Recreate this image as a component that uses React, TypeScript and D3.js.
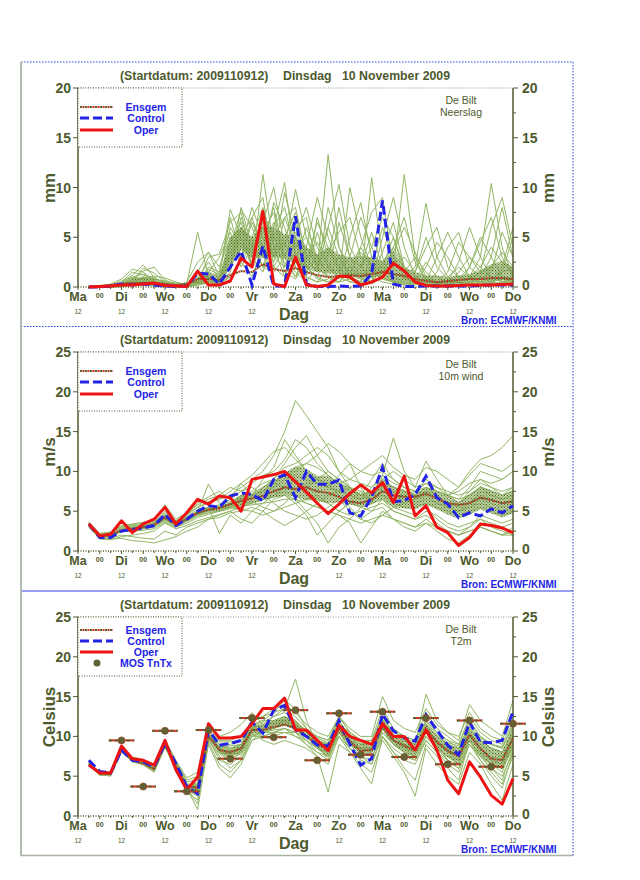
import * as d3 from 'd3';

const W = 640;
const H = 880;
const FONT = '"Liberation Sans", Arial, Helvetica, sans-serif';
const OLIVE = '#4e5a2e';
const GREEN = '#92b665';
const BLUE = '#2323e6';
const RED = '#ee1313';

const TITLE_PARTS = ['(Startdatum: 2009110912)', 'Dinsdag', '10 November  2009'];
const DAYS = ['Ma', 'Di', 'Wo', 'Do', 'Vr', 'Za', 'Zo', 'Ma', 'Di', 'Wo', 'Do'];
// forecast steps in hours after 2009-11-09 12 UTC
const STEPS = d3.range(6, 241, 6);

// ---------- precipitation (mm / 6h) ----------
const precipOper = [0.0, 0.05, 0.1, 0.2, 0.2, 0.3, 0.4, 0.15, 0.1, 0.05, 1.6, 0.2, 0.2, 0.6, 2.9, 2.0, 7.6, 0.3, 0.05, 3.0, 0.2, 0.05, 0.2, 1.1, 1.0, 0.2, 0.5, 1.0, 2.4, 1.6, 0.5, 0.15, 0.1, 0.1, 0.15, 0.2, 0.2, 0.2, 0.25, 0.3];
const precipControl = [0, 0, 0.1, 0.3, 0.2, 0.3, 0.2, 0.1, 0.05, 0.1, 1.4, 1.3, 0.3, 2.0, 3.6, 0.2, 4.1, 0.1, 0.1, 7.1, 0.3, 0.05, 0.05, 0.1, 0.05, 0.1, 1.3, 8.7, 0.3, 0.05, 0.05, 0.1, 0.1, 0.1, 0.1, 0.1, 0.15, 0.2, 0.2, 0.2];
const precipEnsgem = [0.05, 0.1, 0.2, 0.3, 0.4, 0.4, 0.3, 0.3, 0.2, 0.3, 0.8, 0.8, 0.7, 1.2, 1.6, 1.5, 2.3, 1.8, 1.6, 1.9, 1.5, 1.2, 1.0, 1.1, 1.2, 1.1, 1.3, 1.5, 1.3, 1.1, 0.8, 0.6, 0.5, 0.6, 0.7, 0.8, 0.8, 0.9, 0.9, 0.8];
const precipMembers = [
  [0, 0, 0.1, 0.4, 1.2, 2.2, 1.0, 0.3, 0.1, 0.2, 0.8, 0.5, 0.3, 3.5, 6.0, 2.0, 4.5, 8.0, 3.0, 1.5, 0.5, 2.0, 13.3, 4.0, 1.0, 0.5, 3.0, 1.0, 0.5, 0.3, 0.5, 1.0, 0.5, 0.2, 1.5, 3.0, 2.0, 1.0, 0.5, 0.3],
  [0, 0.1, 0.3, 0.8, 1.8, 1.5, 0.6, 0.2, 0.1, 0.5, 2.5, 3.5, 1.0, 7.8, 5.0, 2.0, 11.3, 4.0, 1.0, 2.5, 6.0, 3.0, 1.0, 0.5, 0.8, 1.5, 0.5, 2.0, 5.0, 2.0, 0.5, 0.3, 0.2, 0.5, 1.0, 0.8, 0.5, 2.0, 1.0, 0.5],
  [0, 0, 0.1, 0.2, 0.6, 1.9, 1.4, 0.5, 0.2, 0.3, 5.5, 1.0, 0.5, 2.0, 8.0, 4.0, 2.0, 6.0, 10.5, 3.0, 1.0, 0.5, 0.8, 2.0, 1.0, 0.5, 11.0, 3.0, 0.5, 0.2, 0.3, 0.8, 0.5, 0.3, 0.5, 1.0, 3.0, 10.4, 4.0, 1.0],
  [0, 0, 0.2, 0.6, 1.0, 0.8, 0.4, 0.2, 0.3, 0.2, 1.5, 3.5, 2.0, 5.0, 3.0, 7.0, 9.0, 2.0, 4.0, 9.8, 5.0, 2.0, 1.0, 3.0, 1.5, 0.8, 0.5, 1.0, 2.0, 11.3, 3.0, 0.5, 0.2, 0.1, 0.3, 0.5, 1.0, 0.5, 2.0, 6.0],
  [0, 0, 0, 0.1, 0.3, 0.5, 0.4, 0.3, 0.2, 0.1, 0.5, 3.0, 3.3, 6.5, 7.5, 3.0, 1.5, 5.0, 7.0, 8.0, 3.0, 1.5, 6.0, 10.3, 4.0, 2.0, 1.0, 0.5, 0.3, 1.0, 2.0, 8.4, 3.0, 1.0, 0.5, 0.3, 0.2, 0.5, 1.0, 0.5],
  [0, 0, 0.1, 0.3, 0.5, 1.0, 0.8, 0.5, 0.3, 0.2, 0.4, 1.0, 0.5, 4.0, 7.8, 6.0, 3.0, 2.0, 1.0, 5.0, 8.0, 4.0, 2.0, 1.0, 10.0, 5.0, 2.0, 1.0, 0.5, 0.5, 0.3, 0.2, 1.5, 4.0, 5.5, 2.0, 1.0, 0.5, 0.3, 0.2],
  [0, 0, 0, 0.2, 0.4, 0.6, 0.3, 0.1, 0, 0.1, 0.3, 0.5, 0.2, 2.5, 5.0, 7.0, 3.5, 8.5, 6.0, 2.0, 1.0, 7.0, 3.0, 8.0, 3.0, 1.0, 0.5, 5.0, 9.0, 4.0, 1.0, 0.5, 0.3, 0.2, 0.1, 0.3, 1.0, 3.0, 8.0, 3.0],
  [0, 0, 0.1, 0.5, 1.5, 1.2, 0.8, 0.6, 0.4, 0.3, 1.0, 0.5, 0.8, 3.0, 4.5, 2.5, 6.5, 10.0, 4.0, 7.0, 2.0, 1.0, 0.5, 1.5, 3.0, 7.0, 4.0, 1.5, 0.6, 0.3, 0.8, 2.5, 1.0, 0.4, 0.2, 2.0, 5.0, 3.0, 1.0, 0.8],
  [0, 0, 0, 0, 0.2, 0.3, 0.2, 0.1, 0.1, 0.2, 0.5, 2.0, 1.5, 7.0, 3.0, 5.0, 8.0, 4.0, 2.5, 1.0, 4.0, 9.0, 5.0, 2.0, 1.0, 0.5, 2.0, 6.0, 3.0, 1.0, 0.3, 0.2, 0.1, 0.5, 2.5, 6.0, 3.0, 1.0, 0.5, 0.5],
  [0, 0, 0.1, 0.2, 0.7, 1.6, 2.0, 0.7, 0.2, 0.1, 0.2, 0.5, 0.3, 1.5, 6.0, 4.0, 7.0, 3.0, 9.5, 5.0, 2.0, 0.8, 0.5, 0.5, 2.0, 4.0, 7.5, 9.0, 2.0, 0.8, 0.5, 0.3, 0.2, 0.2, 0.5, 1.0, 2.0, 4.0, 2.5, 1.5],
  [0, 0, 0, 0.1, 0.2, 0.2, 0.1, 0, 0, 0, 0.3, 1.5, 3.0, 5.5, 2.5, 1.0, 4.0, 6.5, 3.0, 6.0, 7.0, 2.0, 4.0, 2.0, 0.5, 0.3, 1.0, 3.5, 6.5, 2.0, 0.5, 0.3, 0.1, 0.1, 0.2, 0.5, 1.5, 6.0, 9.0, 4.0],
  [0, 0, 0.1, 0.3, 0.8, 0.5, 0.3, 0.3, 0.2, 0.2, 0.8, 2.5, 0.8, 2.0, 7.0, 3.0, 5.5, 7.5, 2.0, 3.5, 1.5, 5.5, 2.0, 0.8, 5.0, 8.5, 3.0, 1.0, 0.5, 0.4, 0.3, 0.5, 3.0, 5.5, 3.0, 1.0, 0.5, 0.3, 0.2, 1.0],
  [0, 0, 0, 0.2, 0.5, 0.9, 0.6, 0.2, 0.1, 0.2, 0.6, 0.3, 0.2, 3.0, 5.5, 5.0, 2.0, 4.0, 5.0, 7.5, 3.0, 1.5, 8.0, 4.0, 2.0, 1.0, 0.5, 2.5, 4.0, 7.0, 2.5, 0.8, 0.5, 0.3, 0.2, 0.3, 0.5, 0.8, 1.5, 2.0],
  [0, 0, 0.1, 0.4, 0.9, 0.7, 0.5, 0.4, 0.2, 0.3, 1.2, 1.0, 0.5, 1.0, 3.0, 6.5, 4.0, 2.5, 7.0, 4.0, 5.0, 3.0, 1.5, 6.5, 3.0, 2.0, 5.5, 2.0, 1.0, 0.5, 1.5, 4.0, 6.0, 2.0, 1.0, 0.5, 0.3, 0.5, 0.8, 0.5],
  [0, 0, 0, 0.1, 0.3, 0.4, 0.3, 0.2, 0.1, 0, 0.2, 0.4, 0.6, 4.5, 6.5, 2.0, 3.0, 5.5, 1.5, 0.8, 2.5, 6.5, 4.0, 1.5, 0.8, 0.5, 0.3, 1.0, 2.5, 3.0, 1.5, 5.0, 2.0, 0.8, 0.4, 0.2, 0.1, 0.3, 1.5, 5.0],
  [0, 0, 0.1, 0.3, 1.0, 1.3, 0.9, 0.4, 0.2, 0.1, 0.4, 0.8, 1.5, 6.0, 4.0, 3.5, 6.0, 3.0, 2.0, 4.5, 2.0, 1.0, 3.5, 5.5, 7.0, 3.0, 1.5, 0.8, 0.5, 1.5, 3.0, 1.5, 0.5, 1.5, 4.5, 3.0, 1.5, 1.0, 0.6, 0.4],
  [0, 0, 0, 0.1, 0.2, 0.5, 0.4, 0.3, 0.2, 0.1, 0.3, 0.5, 0.4, 2.0, 4.0, 8.0, 5.0, 3.0, 4.5, 2.0, 1.0, 0.5, 2.0, 3.0, 1.0, 2.0, 4.0, 7.0, 5.0, 1.5, 0.5, 0.3, 0.2, 0.3, 0.8, 2.0, 4.5, 7.0, 3.0, 1.0],
  [0, 0, 0.1, 0.2, 0.4, 0.8, 1.1, 0.9, 0.5, 0.2, 0.6, 1.8, 1.2, 3.5, 5.0, 2.0, 7.5, 5.0, 3.0, 1.0, 3.0, 4.5, 2.5, 1.0, 0.5, 1.0, 2.0, 1.5, 3.5, 6.0, 3.5, 1.0, 0.4, 0.2, 0.3, 0.8, 1.5, 2.0, 3.5, 2.0],
  [0, 0, 0, 0.1, 0.3, 0.6, 0.5, 0.2, 0.1, 0.1, 0.5, 1.2, 0.7, 5.0, 2.0, 4.0, 3.0, 6.0, 8.0, 3.5, 1.5, 3.0, 6.0, 3.0, 1.0, 4.0, 2.0, 0.8, 0.5, 0.3, 0.5, 2.0, 4.5, 3.0, 1.0, 0.5, 0.8, 1.5, 5.5, 3.0],
  [0, 0, 0.1, 0.2, 0.5, 0.3, 0.2, 0.1, 0.1, 0.2, 0.4, 0.6, 0.3, 1.0, 2.5, 4.5, 2.0, 1.5, 3.0, 5.5, 4.0, 2.0, 1.0, 0.5, 1.5, 3.5, 2.0, 1.0, 4.0, 2.0, 1.0, 0.5, 0.3, 1.0, 2.0, 1.0, 0.5, 0.3, 0.5, 1.0],
];

// ---------- 10m wind (m/s) ----------
const windOper = [3.4, 1.9, 2.1, 3.8, 2.3, 3.4, 4.0, 5.5, 3.4, 4.8, 6.5, 5.9, 6.9, 6.7, 5.0, 9.0, 9.3, 9.6, 10.0, 8.7, 7.4, 6.0, 4.7, 5.9, 7.2, 8.3, 7.3, 8.6, 6.1, 9.4, 4.4, 5.7, 3.0, 2.3, 0.7, 1.7, 3.4, 3.2, 2.9, 2.3];
const windControl = [3.4, 1.7, 1.7, 2.5, 2.7, 2.9, 3.2, 4.6, 3.2, 4.0, 5.0, 5.7, 5.5, 6.9, 7.3, 7.1, 6.3, 9.0, 9.6, 6.7, 10.0, 8.4, 8.4, 8.9, 4.8, 4.4, 6.8, 10.5, 6.2, 6.3, 7.1, 9.4, 6.7, 5.9, 4.2, 4.8, 4.4, 5.3, 4.8, 5.7];
const windEnsgem = [3.3, 1.9, 2.0, 2.6, 2.8, 3.0, 3.3, 4.2, 3.4, 4.0, 4.8, 5.2, 5.4, 5.9, 6.3, 6.6, 6.9, 7.5, 8.0, 7.8, 8.0, 7.5, 7.3, 6.8, 6.2, 6.0, 6.5, 7.5, 7.0, 6.8, 6.8, 7.2, 6.6, 6.0, 5.8, 6.0, 6.7, 6.4, 6.0, 6.2];
const windMembers = [
  [3.5, 2.0, 2.2, 2.8, 3.0, 3.2, 3.6, 4.5, 3.6, 4.5, 5.5, 6.0, 6.5, 7.0, 8.0, 9.0, 10.0, 12.0, 15.0, 18.9, 17.0, 15.0, 13.0, 10.0, 8.0, 7.0, 9.0, 11.0, 9.0, 8.0, 7.5, 9.0, 8.0, 7.0, 8.0, 10.0, 11.5, 12.0, 13.0, 14.5],
  [3.2, 1.7, 1.8, 2.4, 2.5, 2.6, 2.8, 3.6, 3.0, 3.5, 4.2, 4.6, 5.0, 5.5, 5.8, 6.0, 6.5, 6.8, 7.0, 6.5, 5.0, 3.5, 1.0, 3.0, 4.0, 5.5, 6.0, 6.5, 5.0, 4.5, 4.0, 5.0, 4.5, 3.5, 3.0, 3.5, 4.0, 3.5, 3.0, 3.5],
  [3.4, 1.9, 2.1, 3.0, 3.2, 3.3, 3.5, 5.0, 3.8, 4.5, 6.0, 6.8, 7.5, 6.5, 8.5, 7.0, 9.0, 10.5, 14.0, 12.0, 10.0, 9.0, 8.0, 9.5, 11.0, 8.0, 6.0, 9.5, 14.2, 10.0, 8.0, 11.3, 9.0, 7.0, 6.0, 7.5, 9.0, 8.0, 7.0, 8.0],
  [3.0, 1.6, 1.5, 1.6, 1.3, 1.2, 1.0, 1.4, 1.8, 2.5, 3.0, 4.0, 4.5, 5.0, 5.5, 6.0, 6.5, 7.0, 7.5, 7.0, 6.0, 5.5, 5.0, 4.5, 3.5, 1.0, 3.0, 5.0, 4.0, 3.5, 3.0, 4.0, 3.0, 2.5, 2.0, 3.0, 4.0, 3.0, 2.5, 2.0],
  [3.3, 2.0, 2.0, 2.7, 2.9, 3.0, 3.3, 4.0, 3.5, 4.2, 5.0, 8.4, 6.0, 5.5, 7.0, 7.5, 8.5, 9.0, 10.5, 11.0, 12.0, 13.0, 12.0, 10.0, 9.0, 8.5, 8.0, 9.0, 10.0, 9.0, 8.0, 8.5, 7.5, 7.0, 6.5, 8.0, 10.0, 9.5, 9.0, 10.0],
  [3.6, 2.2, 2.4, 3.1, 3.3, 3.5, 3.7, 4.8, 3.8, 4.3, 5.2, 5.5, 2.2, 4.5, 3.5, 5.0, 6.0, 7.0, 8.0, 9.0, 7.5, 6.5, 6.0, 5.0, 6.0, 7.5, 6.5, 7.0, 6.0, 5.5, 5.5, 6.0, 5.5, 5.0, 4.5, 5.0, 5.5, 5.0, 4.5, 5.0],
  [3.1, 1.8, 1.9, 2.5, 2.7, 2.9, 3.1, 3.9, 3.2, 3.8, 4.6, 5.0, 5.3, 6.0, 6.5, 7.0, 7.5, 8.5, 9.5, 10.0, 11.0, 12.0, 13.5, 12.5, 11.0, 10.0, 9.5, 10.0, 9.0, 8.0, 7.0, 7.5, 6.5, 5.5, 5.0, 5.5, 6.5, 6.0, 5.5, 6.0],
  [3.4, 1.9, 2.0, 2.6, 2.9, 3.1, 3.4, 4.3, 3.5, 4.1, 4.9, 5.3, 5.6, 6.5, 7.5, 8.0, 7.0, 6.0, 5.0, 4.5, 4.0, 4.5, 5.5, 6.5, 5.0, 4.0, 5.0, 6.5, 5.5, 5.0, 4.5, 5.5, 4.0, 3.0, 2.5, 3.0, 4.5, 4.0, 3.5, 4.0],
  [3.2, 1.8, 1.6, 2.0, 1.8, 1.6, 1.5, 2.5, 2.0, 3.0, 3.5, 4.0, 4.2, 4.8, 5.0, 5.5, 5.0, 4.0, 3.2, 4.0, 5.0, 6.0, 7.0, 7.5, 8.0, 7.0, 6.5, 7.0, 6.5, 6.0, 6.5, 7.0, 6.0, 5.5, 5.0, 5.5, 6.0, 5.5, 5.0, 5.5],
  [3.5, 2.1, 2.3, 2.9, 3.1, 3.2, 3.5, 4.6, 3.7, 4.6, 5.5, 6.2, 6.5, 7.5, 8.5, 9.5, 11.0, 12.5, 13.0, 11.5, 10.0, 8.5, 8.0, 7.5, 7.0, 6.5, 8.0, 9.5, 8.5, 8.0, 7.5, 8.0, 7.5, 7.0, 7.5, 8.5, 9.0, 8.5, 9.0, 10.0],
  [3.3, 1.9, 2.0, 2.6, 2.8, 3.0, 3.3, 4.2, 3.3, 3.9, 4.7, 5.1, 5.3, 5.6, 6.0, 6.2, 5.5, 5.0, 6.0, 7.5, 8.5, 9.0, 8.5, 7.0, 5.5, 4.0, 3.5, 4.5, 5.5, 6.0, 6.5, 7.5, 7.0, 6.0, 5.5, 6.0, 7.0, 6.5, 6.0, 6.5],
  [3.4, 2.0, 2.1, 2.7, 2.9, 3.1, 3.4, 4.4, 3.5, 4.0, 5.0, 5.5, 5.8, 6.2, 7.0, 6.5, 8.0, 9.0, 11.0, 13.0, 14.5, 12.0, 10.0, 9.0, 8.0, 7.5, 7.0, 8.0, 7.0, 6.5, 6.0, 6.5, 6.0, 5.5, 5.0, 6.0, 7.5, 7.0, 6.5, 7.0],
  [3.2, 1.7, 1.9, 2.5, 2.6, 2.8, 3.1, 4.0, 3.2, 3.8, 4.5, 4.8, 5.0, 5.5, 5.2, 5.0, 4.5, 5.0, 5.5, 6.0, 6.5, 7.0, 6.0, 5.0, 4.5, 5.0, 5.5, 6.0, 5.0, 4.5, 4.0, 4.5, 3.5, 2.5, 2.0, 2.5, 3.0, 2.5, 2.0, 2.0],
  [3.3, 1.9, 2.0, 2.6, 2.8, 3.0, 3.3, 4.2, 3.4, 4.0, 4.8, 5.2, 5.4, 6.0, 6.5, 7.0, 7.5, 8.0, 9.0, 9.5, 9.0, 8.5, 8.0, 7.5, 7.0, 6.5, 7.0, 8.0, 7.5, 7.0, 7.5, 8.5, 8.0, 7.5, 7.0, 7.5, 8.5, 8.0, 7.5, 8.0],
  [3.0, 1.5, 1.4, 1.8, 2.0, 2.2, 2.5, 3.5, 2.8, 3.2, 3.8, 4.2, 4.6, 5.0, 4.0, 3.5, 5.0, 6.5, 7.0, 6.0, 4.5, 2.0, 3.5, 5.0, 6.0, 5.5, 5.0, 5.5, 4.0, 3.0, 2.5, 3.5, 2.5, 1.5, 1.0, 2.0, 3.0, 2.5, 2.0, 3.0],
  [3.4, 2.0, 2.0, 2.7, 2.9, 3.1, 3.4, 4.3, 3.5, 4.1, 4.9, 5.3, 5.5, 6.0, 6.8, 7.2, 8.0, 8.8, 9.5, 10.5, 11.0, 10.5, 9.5, 8.5, 7.5, 7.0, 7.5, 8.5, 8.0, 7.5, 7.0, 8.0, 7.5, 7.0, 6.5, 7.0, 8.0, 7.5, 7.0, 7.5],
  [3.6, 2.2, 2.3, 3.2, 3.4, 3.6, 3.9, 5.8, 4.0, 4.8, 5.8, 6.5, 7.0, 8.0, 7.5, 8.5, 9.5, 10.0, 11.5, 14.0, 13.0, 11.0, 9.5, 8.5, 9.0, 10.0, 11.0, 12.0, 10.5, 9.5, 9.0, 10.5, 10.0, 9.0, 8.0, 9.5, 11.0, 10.5, 10.0, 11.0],
  [3.1, 1.8, 1.9, 2.4, 2.6, 2.8, 3.0, 3.8, 3.1, 3.7, 4.4, 4.8, 5.0, 5.3, 5.6, 5.8, 6.0, 6.2, 6.5, 6.5, 6.0, 5.5, 5.0, 4.5, 4.0, 3.5, 4.0, 4.5, 4.0, 3.5, 3.0, 3.5, 3.0, 2.5, 2.0, 2.5, 3.0, 2.5, 2.0, 2.5],
  [3.3, 1.9, 2.0, 2.6, 2.8, 3.0, 3.3, 4.1, 3.3, 4.0, 4.7, 5.2, 5.4, 5.8, 6.2, 6.8, 7.5, 8.5, 8.0, 7.5, 8.0, 9.0, 10.0, 9.0, 8.0, 7.0, 7.5, 9.0, 8.0, 7.5, 7.0, 8.0, 7.0, 6.0, 6.0, 7.0, 8.0, 7.0, 6.5, 7.0],
  [3.4, 1.9, 2.0, 2.6, 2.8, 3.0, 3.3, 4.2, 3.4, 4.0, 4.8, 5.2, 5.4, 5.9, 6.3, 6.6, 6.9, 7.5, 8.0, 7.8, 8.0, 7.5, 7.3, 6.8, 6.2, 6.0, 6.5, 7.5, 7.0, 6.8, 6.8, 7.2, 6.6, 6.0, 5.8, 6.0, 6.7, 6.4, 6.0, 6.2],
];

// ---------- 2m temperature (Celsius) ----------
const tempOper = [6.4, 5.4, 5.4, 8.8, 7.2, 7.0, 6.4, 9.5, 5.8, 3.3, 4.9, 11.6, 9.8, 9.8, 10.0, 11.6, 13.5, 13.5, 14.8, 10.8, 10.8, 9.5, 8.2, 11.4, 10.0, 9.5, 9.0, 11.6, 10.0, 10.0, 8.3, 10.8, 8.3, 4.5, 2.8, 6.8, 4.9, 2.6, 1.5, 4.7];
const tempControl = [7.0, 5.6, 5.4, 8.3, 7.0, 6.8, 6.2, 9.1, 6.6, 3.7, 2.8, 10.8, 8.9, 9.1, 9.5, 11.8, 10.4, 13.3, 13.9, 10.8, 10.0, 8.9, 8.8, 12.0, 9.0, 6.4, 7.2, 12.8, 10.7, 9.8, 9.4, 12.7, 10.8, 8.9, 7.7, 11.8, 9.3, 9.2, 9.5, 13.1];
const tempEnsgem = [6.5, 5.3, 5.3, 8.3, 7.0, 6.6, 5.9, 9.0, 6.3, 3.8, 3.5, 10.0, 8.3, 8.0, 8.5, 10.8, 10.8, 11.2, 11.5, 11.0, 10.0, 9.0, 8.5, 11.0, 9.3, 8.2, 8.3, 11.2, 9.5, 8.8, 8.2, 11.0, 9.3, 8.2, 7.5, 10.2, 8.5, 7.2, 7.0, 9.8];
const tempMembers = [
  [6.6, 5.2, 5.0, 8.0, 6.8, 6.5, 5.6, 8.8, 6.0, 3.2, 2.5, 10.5, 8.0, 7.5, 8.2, 11.0, 11.5, 12.5, 13.5, 17.2, 12.0, 9.0, 7.0, 10.5, 8.5, 7.0, 6.5, 10.0, 8.0, 7.0, 6.5, 9.5, 8.0, 6.5, 5.5, 9.0, 7.5, 6.0, 5.0, 8.0],
  [6.3, 5.5, 5.6, 8.5, 7.3, 7.0, 6.3, 9.5, 6.8, 4.5, 5.0, 11.0, 9.5, 9.5, 10.0, 12.0, 12.5, 13.0, 13.5, 12.5, 11.0, 9.5, 9.0, 12.0, 10.0, 9.0, 9.5, 13.5, 11.0, 10.0, 9.5, 13.0, 11.0, 10.0, 9.0, 12.5, 10.5, 9.5, 9.0, 12.0],
  [6.7, 5.4, 5.3, 8.2, 7.0, 6.6, 5.8, 9.0, 6.2, 3.5, 1.5, 9.5, 7.5, 6.0, 7.0, 10.0, 10.0, 10.5, 11.0, 10.5, 9.0, 7.5, 3.0, 9.0, 8.0, 6.0, 4.0, 10.0, 8.0, 6.0, 4.5, 9.0, 7.5, 6.0, 4.5, 9.5, 7.0, 5.0, 3.5, 8.0],
  [6.4, 5.1, 5.2, 8.4, 7.2, 6.8, 6.0, 9.2, 6.5, 4.0, 4.0, 10.2, 8.8, 8.5, 9.0, 11.5, 11.0, 11.8, 12.0, 11.5, 10.5, 10.0, 9.5, 11.5, 10.5, 9.5, 9.0, 12.0, 10.5, 10.0, 9.0, 12.0, 10.5, 9.5, 8.5, 11.5, 10.0, 9.0, 8.5, 11.5],
  [6.5, 5.3, 5.4, 8.1, 6.9, 6.4, 5.5, 8.6, 5.8, 3.0, 2.0, 9.0, 6.0, 4.8, 6.5, 9.5, 10.5, 11.0, 11.5, 11.0, 9.5, 8.0, 7.5, 10.0, 8.5, 7.5, 7.0, 11.0, 9.0, 8.5, 8.0, 10.5, 9.0, 7.0, 6.0, 9.5, 7.5, 6.5, 6.0, 9.0],
  [6.6, 5.6, 5.5, 8.6, 7.4, 7.1, 6.5, 9.6, 7.0, 4.8, 5.5, 11.5, 10.0, 10.5, 11.5, 13.0, 11.5, 11.0, 12.0, 11.5, 10.5, 9.5, 9.0, 12.5, 10.5, 9.5, 9.0, 12.5, 10.0, 9.0, 8.5, 11.5, 10.0, 9.0, 8.0, 11.0, 9.5, 8.5, 8.0, 10.5],
  [6.4, 5.2, 5.1, 8.3, 7.1, 6.7, 6.1, 9.1, 6.4, 3.6, 3.0, 10.0, 8.5, 8.0, 8.5, 10.5, 9.5, 9.0, 9.5, 9.0, 8.5, 7.5, 6.5, 10.0, 8.0, 6.5, 5.5, 9.5, 7.5, 5.5, 2.5, 8.5, 6.5, 5.0, 4.0, 8.0, 6.5, 4.0, 2.0, 6.5],
  [6.5, 5.4, 5.3, 8.2, 6.9, 6.5, 5.7, 8.9, 6.1, 3.4, 3.3, 10.3, 8.2, 7.8, 8.3, 11.2, 12.0, 13.0, 14.5, 13.5, 11.0, 10.0, 9.5, 12.5, 11.0, 10.0, 10.0, 15.0, 12.0, 11.0, 10.5, 13.5, 11.5, 10.5, 10.0, 13.0, 11.0, 10.0, 9.5, 13.0],
  [6.6, 5.3, 5.4, 8.4, 7.1, 6.6, 6.0, 9.0, 6.3, 3.9, 3.8, 9.8, 7.0, 6.5, 7.5, 10.0, 10.5, 10.5, 11.0, 10.0, 9.0, 8.0, 7.0, 10.5, 9.0, 8.0, 8.5, 11.0, 9.5, 9.0, 8.5, 10.5, 9.0, 8.0, 7.5, 10.0, 8.0, 7.0, 6.5, 9.0],
  [6.5, 5.2, 5.2, 8.3, 7.0, 6.6, 5.9, 9.0, 6.2, 3.7, 3.6, 10.6, 9.0, 9.0, 9.5, 11.0, 11.8, 12.5, 13.0, 12.0, 10.5, 9.5, 9.0, 11.5, 10.0, 9.0, 8.5, 12.0, 10.0, 9.5, 9.0, 15.3, 12.0, 10.5, 9.5, 14.0, 12.0, 11.0, 10.0, 14.5],
  [6.4, 5.3, 5.3, 8.2, 7.0, 6.6, 5.8, 8.9, 6.3, 3.5, 0.8, 9.3, 6.5, 5.5, 7.0, 9.5, 10.0, 10.5, 10.5, 10.0, 9.5, 8.5, 8.0, 10.5, 8.5, 7.5, 8.0, 10.5, 9.0, 8.0, 7.5, 10.0, 8.5, 7.5, 7.0, 9.5, 7.5, 6.0, 4.5, 8.5],
  [6.6, 5.5, 5.4, 8.5, 7.2, 6.9, 6.2, 9.3, 6.7, 4.3, 4.5, 10.8, 9.3, 9.3, 9.5, 11.5, 12.0, 12.0, 12.5, 11.5, 10.0, 9.0, 8.5, 11.5, 9.5, 8.5, 8.0, 11.5, 9.5, 9.0, 8.5, 11.0, 9.5, 8.5, 8.0, 10.5, 9.0, 8.0, 7.5, 10.0],
  [6.5, 5.3, 5.2, 8.1, 6.9, 6.5, 5.8, 8.8, 6.0, 3.3, 2.8, 9.6, 7.8, 7.0, 8.0, 10.5, 11.0, 12.0, 12.5, 12.0, 10.5, 9.0, 8.0, 11.0, 9.5, 8.5, 8.0, 11.0, 9.0, 8.0, 7.5, 10.5, 8.5, 7.5, 6.5, 10.0, 8.0, 6.5, 5.5, 9.0],
  [6.6, 5.4, 5.4, 8.3, 7.0, 6.7, 6.0, 9.1, 6.4, 3.8, 4.2, 10.4, 8.6, 8.8, 9.0, 11.8, 12.5, 13.5, 14.0, 13.0, 11.5, 10.5, 10.0, 12.5, 10.5, 9.5, 9.5, 12.5, 10.5, 10.0, 9.5, 12.0, 10.5, 9.5, 9.0, 12.0, 10.0, 9.0, 8.5, 11.5],
  [6.5, 5.3, 5.3, 8.3, 7.0, 6.6, 5.9, 9.0, 6.3, 3.8, 3.4, 10.1, 8.2, 7.5, 8.0, 10.2, 10.5, 10.8, 11.0, 10.5, 9.5, 8.5, 7.5, 10.5, 9.0, 7.5, 6.5, 10.5, 9.0, 8.0, 7.0, 10.0, 8.5, 7.0, 6.0, 9.0, 7.0, 5.5, 4.0, 7.5],
  [6.4, 5.2, 5.1, 8.2, 6.9, 6.5, 5.7, 8.9, 6.2, 3.6, 3.2, 9.9, 8.0, 7.8, 8.5, 11.0, 11.0, 11.5, 12.0, 11.5, 10.5, 9.5, 9.0, 11.5, 10.0, 9.0, 9.0, 12.0, 10.0, 9.5, 9.0, 11.5, 10.0, 9.0, 8.5, 11.0, 9.5, 8.5, 8.0, 11.0],
  [6.7, 5.5, 5.5, 8.4, 7.1, 6.7, 6.0, 9.1, 6.5, 4.0, 3.9, 10.3, 8.7, 8.5, 9.0, 10.8, 10.0, 10.0, 10.5, 10.5, 10.0, 9.0, 8.5, 10.5, 9.0, 8.0, 7.5, 10.0, 8.5, 7.5, 7.0, 9.5, 8.0, 7.0, 6.5, 9.0, 7.5, 6.5, 6.0, 8.5],
  [6.5, 5.3, 5.3, 8.2, 7.0, 6.6, 5.9, 9.0, 6.3, 3.7, 3.1, 10.0, 8.4, 8.2, 8.7, 11.3, 11.3, 11.8, 12.2, 11.8, 10.8, 9.8, 9.2, 11.8, 10.2, 9.2, 9.0, 12.2, 10.2, 9.5, 9.0, 11.8, 10.2, 9.2, 8.8, 11.2, 9.8, 9.0, 8.7, 11.2],
  [6.6, 5.4, 5.4, 8.3, 7.0, 6.7, 6.0, 9.0, 6.4, 3.9, 3.7, 10.2, 8.0, 7.2, 7.8, 10.0, 10.8, 11.5, 12.0, 11.5, 10.0, 8.5, 7.5, 11.0, 9.5, 8.5, 8.5, 11.5, 9.5, 8.5, 7.5, 10.5, 9.0, 8.0, 7.0, 10.5, 8.5, 7.0, 6.5, 9.5],
  [6.5, 5.3, 5.3, 8.3, 7.0, 6.6, 5.9, 9.0, 6.3, 3.8, 3.5, 10.0, 8.3, 8.0, 8.5, 10.8, 11.0, 11.5, 11.8, 11.2, 10.2, 9.2, 8.7, 11.2, 9.6, 8.6, 8.4, 11.4, 9.6, 8.9, 8.3, 11.1, 9.4, 8.3, 7.6, 10.4, 8.6, 7.4, 7.2, 10.0],
];
// MOS minimum / maximum temperature
const mosHours = [24, 36, 48, 60, 72, 84, 96, 108, 120, 132, 144, 156, 168, 180, 192, 204, 216, 228, 240];
const mosValues = [9.5, 3.7, 10.7, 3.1, 10.8, 7.2, 12.3, 9.9, 13.3, 7.0, 12.9, 7.7, 13.1, 7.4, 12.3, 6.5, 12.0, 6.2, 11.6];

const x = d3.scaleLinear([0, 240], [78, 513]);

type PanelProps = {
  top: number;
  yMax: number;
  unit: string;
  name: string;
  members: number[][];
  ensgem: number[];
  control: number[];
  oper: number[];
  mos?: boolean;
};

function Panel({ top, yMax, unit, name, members, ensgem, control, oper, mos }: PanelProps) {
  const y = d3.scaleLinear([0, yMax], [top + 199, top]);
  const line = d3.line<number>().x((_, i) => x(STEPS[i])).y(v => y(v));
  const band = d3.area<number>()
    .x(i => x(STEPS[i]))
    .y0(i => y(d3.quantile(members.map(m => m[i]), 0.3) ?? 0))
    .y1(i => y(d3.quantile(members.map(m => m[i]), 0.7) ?? 0));
  const majors = d3.range(0, yMax + 0.1, 5);
  const minors = d3.range(2.5, yMax, 5);
  const bottom = top + 199;
  const legY = mos ? [13, 24, 35, 46] : [19, 30, 42];
  const legText = { fontFamily: FONT, fontSize: 10.5, fontWeight: 'bold' as const, fill: BLUE, textAnchor: 'middle' as const };

  return (
    <g>
      {/* title */}
      <text y={top - 8} fontFamily={FONT} fontSize={12.3} fontWeight="bold" fill={OLIVE}>
        <tspan x={120}>{TITLE_PARTS[0]}</tspan>
        <tspan x={283}>{TITLE_PARTS[1]}</tspan>
        <tspan x={342}>{TITLE_PARTS[2]}</tspan>
      </text>

      {/* ensemble members */}
      {members.map((m, k) => (
        <path key={k} d={line(m) ?? ''} fill="none" stroke={GREEN} strokeWidth={1} />
      ))}
      <path d={band(d3.range(STEPS.length)) ?? ''} fill="url(#speckle)" stroke="none" />

      {/* frame of the plot */}
      <line x1={78} x2={513} y1={top} y2={top} stroke="#8c9a80" strokeWidth={1} strokeDasharray="1,1.5" />
      <line x1={78} x2={513} y1={bottom} y2={bottom} stroke={OLIVE} strokeWidth={1.5} strokeDasharray="1,1.5" />
      <line x1={78} x2={78} y1={top} y2={bottom} stroke={OLIVE} strokeWidth={1.5} />
      <line x1={513} x2={513} y1={top} y2={bottom} stroke={OLIVE} strokeWidth={1.5} />

      {/* y axes */}
      {majors.map(v => (
        <g key={v}>
          <line x1={73} x2={78} y1={y(v)} y2={y(v)} stroke={OLIVE} strokeWidth={1} />
          <line x1={513} x2={518} y1={y(v)} y2={y(v)} stroke={OLIVE} strokeWidth={1} />
          <text x={71} y={y(v) + 5} textAnchor="end" fontFamily={FONT} fontSize={14} fontWeight="bold" fill={OLIVE}>{v}</text>
          <text x={522} y={y(v) + (v === 0 ? 3 : 5)} fontFamily={FONT} fontSize={14} fontWeight="bold" fill={OLIVE}>{v}</text>
        </g>
      ))}
      {minors.map(v => (
        <line key={v} x1={513} x2={516} y1={y(v)} y2={y(v)} stroke={OLIVE} strokeWidth={1} />
      ))}
      <text transform={`translate(55,${top + 100}) rotate(-90)`} textAnchor="middle" fontFamily={FONT} fontSize={17} fontWeight="bold" fill={OLIVE}>{unit}</text>
      <text transform={`translate(554,${top + 100}) rotate(-90)`} textAnchor="middle" fontFamily={FONT} fontSize={17} fontWeight="bold" fill={OLIVE}>{unit}</text>

      {/* x axis */}
      {d3.range(0, 241, 6).map(h => (
        <line key={h} x1={x(h)} x2={x(h)} y1={bottom} y2={bottom + (h % 12 === 0 ? 3 : 2)} stroke={OLIVE} strokeWidth={1} />
      ))}
      {DAYS.map((d, k) => (
        <g key={k}>
          <text x={x(k * 24)} y={bottom + 14} textAnchor="middle" fontFamily={FONT} fontSize={12.5} fontWeight="bold" fill={OLIVE}>{d}</text>
          {k !== 5 && (
            <text x={x(k * 24)} y={bottom + 27} textAnchor="middle" fontFamily={FONT} fontSize={6.5} fill={OLIVE}>12</text>
          )}
          {k < 10 && (
            <text x={x(k * 24 + 12)} y={bottom + 11} textAnchor="middle" fontFamily={FONT} fontSize={7} fontWeight="bold" fill={OLIVE}>00</text>
          )}
        </g>
      ))}
      <text x={294} y={bottom + 33} textAnchor="middle" fontFamily={FONT} fontSize={16} fontWeight="bold" fill={OLIVE}>Dag</text>
      <text x={461} y={bottom + 37} fontFamily={FONT} fontSize={10} fontWeight="bold" fill={BLUE}>Bron: ECMWF/KNMI</text>

      {/* station label */}
      <text x={461} y={top + 16} textAnchor="middle" fontFamily={FONT} fontSize={10.5} fill={OLIVE}>De Bilt</text>
      <text x={461} y={top + 28} textAnchor="middle" fontFamily={FONT} fontSize={10.5} fill={OLIVE}>{name}</text>

      {/* main lines */}
      <path d={line(ensgem) ?? ''} fill="none" stroke="#5b6230" strokeWidth={2} strokeDasharray="2,3" />
      <path d={line(ensgem) ?? ''} fill="none" stroke="#c8321e" strokeWidth={2} strokeDasharray="2,3" strokeDashoffset={2.5} />
      <path d={line(control) ?? ''} fill="none" stroke={BLUE} strokeWidth={3} strokeDasharray="9,4" />
      <path d={line(oper) ?? ''} fill="none" stroke={RED} strokeWidth={3} strokeLinejoin="round" />

      {mos && mosHours.map((h, k) => (
        <g key={h}>
          <line x1={x(h - 7)} x2={x(h + 7)} y1={y(mosValues[k])} y2={y(mosValues[k])} stroke="#d0301c" strokeWidth={2} />
          <line x1={x(h - 7)} x2={x(h + 7)} y1={y(mosValues[k])} y2={y(mosValues[k])} stroke="#5b6230" strokeWidth={2} strokeDasharray="3,3" />
          <circle cx={x(h)} cy={y(mosValues[k])} r={3.5} fill="#5e6234" stroke="#8a4a2a" strokeWidth={0.8} />
        </g>
      ))}

      {/* legend */}
      <rect x={78} y={top} width={104} height={59} fill="white" stroke={OLIVE} strokeWidth={1} strokeDasharray="1,1.5" />
      <line x1={80} x2={113} y1={top + legY[0]} y2={top + legY[0]} stroke="#5b6230" strokeWidth={2} strokeDasharray="2,3" />
      <line x1={80} x2={113} y1={top + legY[0]} y2={top + legY[0]} stroke="#c8321e" strokeWidth={2} strokeDasharray="2,3" strokeDashoffset={2.5} />
      <line x1={80} x2={113} y1={top + legY[1]} y2={top + legY[1]} stroke={BLUE} strokeWidth={3} strokeDasharray="9,4" />
      <line x1={80} x2={113} y1={top + legY[2]} y2={top + legY[2]} stroke={RED} strokeWidth={3} />
      <text x={146} y={top + legY[0] + 4} {...legText}>Ensgem</text>
      <text x={146} y={top + legY[1] + 4} {...legText}>Control</text>
      <text x={146} y={top + legY[2] + 4} {...legText}>Oper</text>
      {mos && (
        <>
          <circle cx={97} cy={top + legY[3]} r={3.5} fill="#5e6234" />
          <text x={146} y={top + legY[3] + 4} {...legText}>MOS TnTx</text>
        </>
      )}
    </g>
  );
}

export default function App() {
  return (
    <svg width={W} height={H} style={{ position: 'absolute', left: 0, top: 0, background: 'white' }}>
      <defs>
        <pattern id="speckle" width={3} height={3} patternUnits="userSpaceOnUse">
          <rect width={3} height={3} fill={GREEN} opacity={0.6} />
          <rect x={0} y={0} width={1} height={1} fill="#55652f" />
          <rect x={1.5} y={1.5} width={1} height={1} fill="#6d7d42" />
        </pattern>
      </defs>

      {/* outer frame */}
      <line x1={21} x2={573} y1={62} y2={62} stroke="#3040e0" strokeWidth={1} strokeDasharray="1.5,1.5" />
      <line x1={21} x2={573} y1={326.5} y2={326.5} stroke="#3040e0" strokeWidth={1} strokeDasharray="1.5,1.5" />
      <line x1={21} x2={573} y1={591} y2={591} stroke="#3040e0" strokeWidth={1.2} />
      <line x1={21} x2={573} y1={855.5} y2={855.5} stroke="#a8b4a4" strokeWidth={1.5} />
      <line x1={21} x2={21} y1={62} y2={856} stroke="#b0bcae" strokeWidth={2} />
      <line x1={573} x2={573} y1={62} y2={856} stroke="#3040e0" strokeWidth={1} strokeDasharray="1.5,1.5" />

      <Panel top={88} yMax={20} unit="mm" name="Neerslag" members={precipMembers} ensgem={precipEnsgem} control={precipControl} oper={precipOper} />
      <Panel top={352} yMax={25} unit="m/s" name="10m wind" members={windMembers} ensgem={windEnsgem} control={windControl} oper={windOper} />
      <Panel top={617} yMax={25} unit="Celsius" name="T2m" members={tempMembers} ensgem={tempEnsgem} control={tempControl} oper={tempOper} mos />
    </svg>
  );
}
